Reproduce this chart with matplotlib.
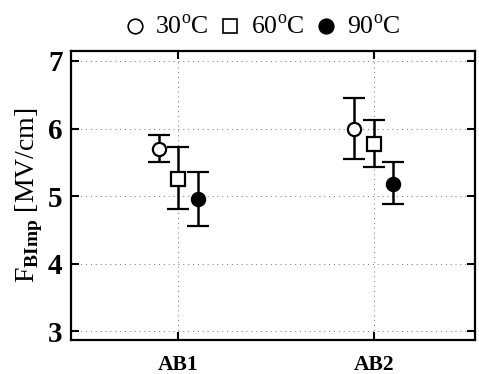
import numpy as np
import matplotlib as mpl
mpl.use('Agg')
import matplotlib.pyplot as plt
from matplotlib.lines import Line2D

plt.rcParams['font.family'] = 'Liberation Serif'
plt.rcParams['mathtext.fontset'] = 'custom'
plt.rcParams['mathtext.rm'] = 'Liberation Serif'
plt.rcParams['mathtext.bf'] = 'Liberation Serif:bold'
plt.rcParams['font.size'] = 17

# data
groups = ['AB1', 'AB2']
temps = ['30$^{\\mathrm{o}}$C', '60$^{\\mathrm{o}}$C', '90$^{\\mathrm{o}}$C']
f_mean = [[5.70, 6.00],   # 30C
          [5.26, 5.77],   # 60C
          [4.95, 5.18]]   # 90C
f_low = [[5.50, 5.55],
         [4.81, 5.43],
         [4.56, 4.88]]
f_high = [[5.90, 6.45],
          [5.73, 6.12],
          [5.35, 5.50]]

markers = ['o', 's', 'o']
faces = ['white', 'white', 'black']
msizes = [9.5, 9.5, 9.5]
offsets = [-0.1, 0.0, 0.1]

fig = plt.figure(figsize=(4.79, 3.74), dpi=100)
ax = fig.add_axes([0.148, 0.091, 0.844, 0.773])

x = np.arange(1, len(groups) + 1)
for i in range(3):
    m = np.array(f_mean[i])
    lo = m - np.array(f_low[i])
    hi = np.array(f_high[i]) - m
    ax.errorbar(x + offsets[i], m, yerr=[lo, hi], fmt=markers[i], ms=msizes[i],
                mfc=faces[i], mec='black', mew=1.6, ecolor='black', elinewidth=1.8,
                capsize=8, capthick=3, zorder=3)

ax.set_xlim(0.45, 2.52)
ax.set_ylim(2.87, 7.15)
ax.set_xticks(x)
ax.set_xticklabels(groups, fontweight='bold', fontsize=15.5)
ax.set_yticks([3, 4, 5, 6, 7])
ax.set_yticklabels(['3', '4', '5', '6', '7'], fontweight='bold', fontsize=21)
ax.tick_params(direction='in', length=6, width=1.5, top=True, right=True, pad=6)
ax.tick_params(axis='x', pad=11)
ax.grid(True, color='0.45', linestyle=(0, (1, 4)), linewidth=0.7)
for s in ax.spines.values():
    s.set_linewidth(1.6)

ax.set_ylabel('F$_{\\mathrm{\\mathbf{BImp}}}$ [MV/cm]', fontsize=20, labelpad=2)

handles = [Line2D([], [], ls='none', marker=markers[i], ms=msizes[i] + 1,
                  mfc=faces[i], mec='black', mew=1.2) for i in range(3)]
fig.legend(handles, temps, loc='upper center', bbox_to_anchor=(0.545, 1.02),
           ncol=3, frameon=False, handletextpad=0.3, columnspacing=0.35,
           handlelength=1.0, fontsize=18.5)

plt.savefig('out.png', dpi=100)
